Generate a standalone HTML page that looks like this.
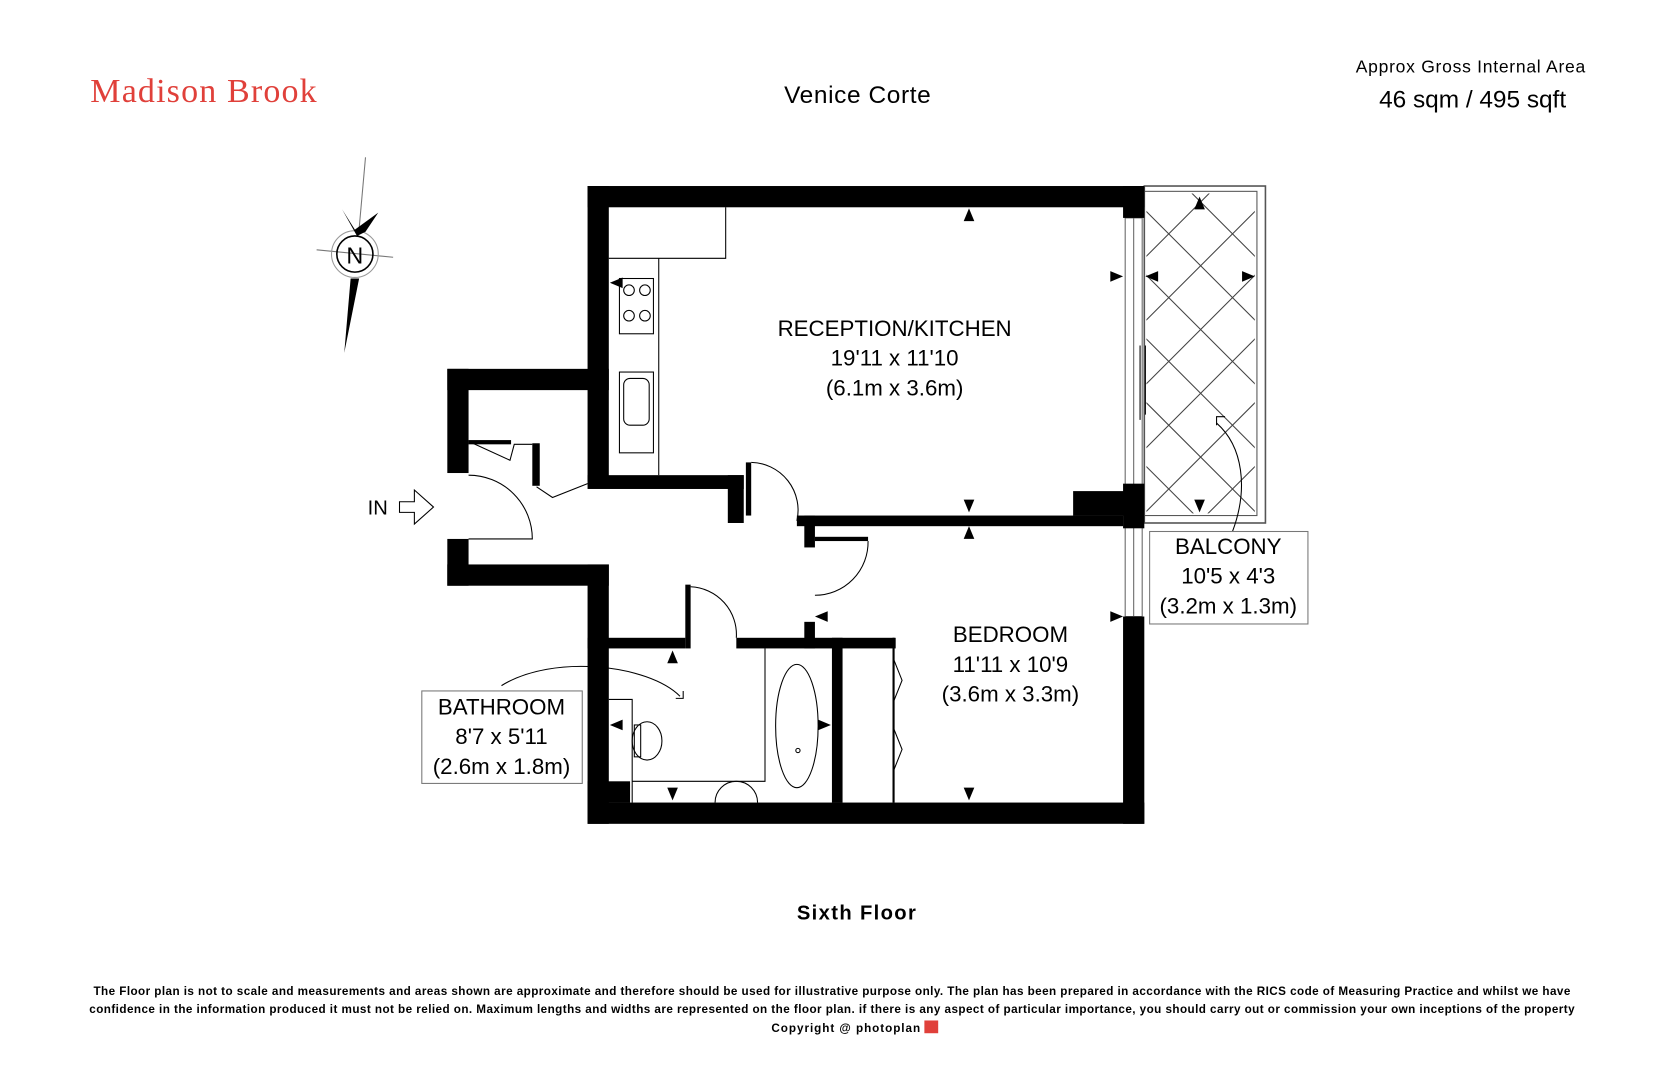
<!DOCTYPE html>
<html><head><meta charset="utf-8"><style>
html,body{margin:0;padding:0;background:#fff}
svg{display:block}
text{font-family:"Liberation Sans",Arial,sans-serif}
</style></head><body>
<svg width="1666" height="1080" viewBox="0 0 1568 1016" preserveAspectRatio="none" xmlns="http://www.w3.org/2000/svg">
<rect width="1568" height="1016" fill="#fff"/>
<text x="85" y="96" font-size="32" fill="#e0403a" textLength="213" style="font-family:'Liberation Serif',serif">Madison Brook</text>
<text x="738" y="97" font-size="23" textLength="138">Venice Corte</text>
<text x="1276" y="68" font-size="16.5" textLength="216">Approx Gross Internal Area</text>
<text x="1298" y="101" font-size="23" textLength="176">46 sqm / 495 sqft</text>

<!-- compass -->
<g stroke="#777" stroke-width="1" fill="none">
<line x1="344" y1="148" x2="338" y2="215"/>
<line x1="298" y1="235" x2="370" y2="242"/>
<circle cx="334" cy="239" r="22" stroke="#999"/>
<circle cx="334" cy="239" r="17" stroke="#000" stroke-width="1.5"/>
</g>
<polygon points="322,197 334,216 356,200 344,218 336,222" fill="#000"/>
<polygon points="330,262 338,262 324,332" fill="#000"/>
<text x="334" y="248" font-size="22" text-anchor="middle">N</text>

<!-- balcony -->
<rect x="1077" y="175" width="114" height="317" fill="none" stroke="#555" stroke-width="1.5"/>
<rect x="1077" y="180" width="106" height="305" fill="none" stroke="#555" stroke-width="1"/>
<clipPath id="bc"><rect x="1079" y="182" width="102" height="301"/></clipPath>
<g clip-path="url(#bc)" stroke="#444" stroke-width="1">
<path d="M1000,180 l320,320 M1000,240 l320,320 M1000,300 l320,320 M1000,360 l320,320 M1000,120 l320,320 M1000,60 l320,320 M1060,0 l320,320 M1000,420 l320,320 M1120,0 l320,320
M1260,180 l-320,320 M1260,240 l-320,320 M1260,300 l-320,320 M1260,120 l-320,320 M1260,60 l-320,320 M1260,360 l-320,320 M1260,0 l-320,320 M1260,420 l-320,320 M1260,480 l-320,320"/>
</g>

<!-- windows -->
<g stroke="#666" stroke-width="1" fill="none">
<rect x="1059" y="205" width="16" height="255"/>
<line x1="1067" y1="205" x2="1067" y2="460"/>
<rect x="1059" y="495" width="16" height="85"/>
<line x1="1067" y1="495" x2="1067" y2="580"/>
</g>

<!-- walls -->
<g fill="#000">
<rect x="553" y="175" width="524" height="20"/>
<rect x="1057" y="175" width="20" height="30"/>
<rect x="1057" y="455" width="20" height="42"/>
<rect x="1010" y="462" width="50" height="23"/>
<rect x="1057" y="580" width="20" height="195"/>
<rect x="553" y="755" width="524" height="20"/>
<rect x="553" y="175" width="20" height="278"/>
<rect x="421" y="347" width="152" height="20"/>
<rect x="421" y="347" width="20" height="98"/>
<rect x="421" y="507" width="20" height="44"/>
<rect x="421" y="531" width="152" height="20"/>
<rect x="553" y="531" width="20" height="244"/>
<rect x="553" y="447" width="147" height="13"/>
<rect x="685" y="447" width="15" height="45"/>
<rect x="702" y="435" width="5" height="50"/>
<rect x="750" y="485" width="307" height="10"/>
<rect x="757" y="485" width="10" height="30"/>
<rect x="767" y="505" width="50" height="4"/>
<rect x="757" y="585" width="10" height="25"/>
<rect x="553" y="600" width="92" height="10"/>
<rect x="645" y="550" width="5" height="60"/>
<rect x="693" y="600" width="150" height="10"/>
<rect x="783" y="600" width="10" height="155"/>
<rect x="553" y="735" width="40" height="20"/>
<rect x="441" y="414" width="40" height="4"/>
<rect x="501" y="417" width="7" height="40"/>
</g>
<g stroke="#000" fill="none" stroke-width="1">
<line x1="841" y1="600" x2="841" y2="755" stroke-width="2"/>
<path d="M841,620 l8,20 l-8,20 M841,685 l8,20 l-8,20"/>
<path d="M441,447 A60,60 0 0 1 501,507 L441,507"/>
<path d="M707,435 A45,45 0 0 1 750,490"/>
<path d="M767,560 A50,50 0 0 0 817,509"/>
<path d="M650,552 A45,45 0 0 1 693,600"/>
<path d="M445,417 L480,433 L484,418 L501,418 M505,458 L520,468 L553,455"/>
<path d="M573,243 L620,243 L620,447 M683,195 L683,243 L620,243"/>
<rect x="583" y="262" width="32" height="52"/>
<circle cx="592" cy="273" r="5"/><circle cx="607" cy="273" r="5"/><circle cx="592" cy="297" r="5"/><circle cx="607" cy="297" r="5"/>
<rect x="583" y="350" width="32" height="76"/>
<rect x="587" y="356" width="24" height="44" rx="6"/>
<path d="M573,658 L595,658 L595,735 M595,735 L720,735 L720,610 M595,755 L595,735"/>
<ellipse cx="609" cy="697" rx="14" ry="18"/>
<rect x="597" y="682" width="6" height="30"/>
<path d="M673,755 A20,20 0 0 1 713,755"/>
<ellipse cx="750" cy="683" rx="20" ry="58"/>
<circle cx="751" cy="706" r="2"/>
<path d="M472,645 C520,615 610,625 640,655"/>
<path d="M1160,500 C1175,460 1170,420 1145,398"/>
<path d="M1145,400 l0,-8 l8,0 M636,657 l7,0 l0,-7"/>
<path d="M1078,325 L1078,390 M1073,325 l0,70"/>
</g>
<g fill="#000">
<polygon points="912,196 907,208 917,208"/>
<polygon points="912,482 907,470 917,470"/>
<polygon points="912,495 907,507 917,507"/>
<polygon points="912,753 907,741 917,741"/>
<polygon points="1057,260 1045,255 1045,265"/>
<polygon points="1057,580 1045,575 1045,585"/>
<polygon points="767,580 779,575 779,585"/>
<polygon points="574,266 586,261 586,271"/>
<polygon points="1129,185 1124,197 1134,197"/>
<polygon points="1129,482 1124,470 1134,470"/>
<polygon points="1078,260 1090,255 1090,265"/>
<polygon points="1181,260 1169,255 1169,265"/>
<polygon points="633,612 628,624 638,624"/>
<polygon points="633,753 628,741 638,741"/>
<polygon points="574,682 586,677 586,687"/>
<polygon points="782,682 770,677 770,687"/>
</g>
<path d="M376,472 L390,472 L390,461 L408,477 L390,493 L390,482 L376,482 Z" fill="#fff" stroke="#000" stroke-width="1"/>
<text x="346" y="484" font-size="19">IN</text>

<g font-size="21" text-anchor="middle">
<text x="842" y="316">RECEPTION/KITCHEN</text>
<text x="842" y="344">19'11 x 11'10</text>
<text x="842" y="372">(6.1m x 3.6m)</text>
<text x="951" y="604">BEDROOM</text>
<text x="951" y="632">11'11 x 10'9</text>
<text x="951" y="660">(3.6m x 3.3m)</text>
</g>
<rect x="397" y="650" width="151" height="87" fill="#fff" stroke="#777"/>
<rect x="1082" y="500" width="149" height="87" fill="#fff" stroke="#777"/>
<g font-size="21" text-anchor="middle">
<text x="472" y="672">BATHROOM</text>
<text x="472" y="700">8'7 x 5'11</text>
<text x="472" y="728">(2.6m x 1.8m)</text>
<text x="1156" y="521">BALCONY</text>
<text x="1156" y="549">10'5 x 4'3</text>
<text x="1156" y="577">(3.2m x 1.3m)</text>
</g>

<text x="750" y="865" font-size="19" font-weight="bold" textLength="112">Sixth Floor</text>
<g font-size="11" font-weight="bold">
<text x="88" y="936" textLength="1390">The Floor plan is not to scale and measurements and areas shown are approximate and therefore should be used for illustrative purpose only. The plan has been prepared in accordance with the RICS code of Measuring Practice and whilst we have</text>
<text x="84" y="953" textLength="1398">confidence in the information produced it must not be relied on. Maximum  lengths and widths are represented on the floor plan. if there is any aspect of particular importance, you should carry out or commission your own inceptions of the property</text>
<text x="726" y="971" textLength="140">Copyright @ photoplan</text>
</g>
<rect x="870" y="960" width="13" height="12" fill="#e0403a"/>
</svg>
</body></html>
